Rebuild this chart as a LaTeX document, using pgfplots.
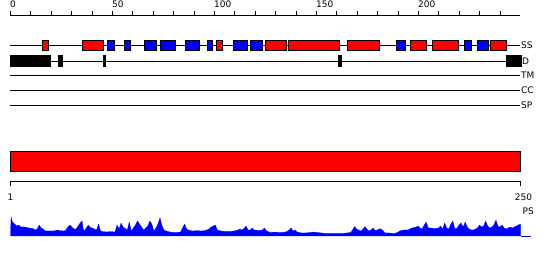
\documentclass[border=0pt]{standalone}
\usepackage{fontspec}
\setmainfont{DejaVu Sans}
\usepackage{pgfplots}
\pgfplotsset{compat=1.18}
\definecolor{ssred}{RGB}{255,0,0}
\definecolor{ssblue}{RGB}{0,0,255}
\begin{document}
\begin{tikzpicture}[font=\fontsize{9}{10}\selectfont]
\useasboundingbox (0pt,0pt) rectangle (550pt,260pt);
% top ruler
\begin{axis}[at={(10.5pt,245pt)}, anchor=south west, scale only axis,
  width=510pt, height=10pt, xmin=0, xmax=250, ymin=0, ymax=1,
  axis x line*=bottom, axis y line=none,
  xtick={0,50,100,150,200}, xticklabels={0,50,100,150,200},
  minor xtick={10,20,30,40,60,70,80,90,110,120,130,140,160,170,180,190,210,220,230,240},
  xtick align=inside, major tick length=4.3pt, minor tick length=4.3pt,
  every tick/.style={black, line width=0.8pt},
  axis line style={line width=0.8pt},
  xticklabel style={anchor=south west, inner sep=0pt, xshift=-0.5pt, yshift=7.5pt, font=\fontsize{9}{10}\selectfont},
  /pgf/number format/assume math mode=true]
\end{axis}
% tracks
\begin{axis}[at={(10.5pt,145pt)}, anchor=south west, scale only axis,
  width=510pt, height=105pt, xmin=0, xmax=250, ymin=-115, ymax=-10,
  axis lines=none, clip=false]
\addplot[black, line width=0.8pt] coordinates {(0,-45) (250,-45)};
\addplot[black, line width=0.8pt] coordinates {(0,-61) (250,-61)};
\addplot[black, line width=0.8pt] coordinates {(0,-75) (250,-75)};
\addplot[black, line width=0.8pt] coordinates {(0,-90) (250,-90)};
\addplot[black, line width=0.8pt] coordinates {(0,-105) (250,-105)};
% SS helices (red)
\addplot[fill=ssred, draw=black, line width=0.6pt] coordinates {(15.5,-40) (18.5,-40) (18.5,-50.5) (15.5,-50.5)} -- cycle;
\addplot[fill=ssred, draw=black, line width=0.6pt] coordinates {(35,-40) (45.5,-40) (45.5,-50.5) (35,-50.5)} -- cycle;
\addplot[fill=ssred, draw=black, line width=0.6pt] coordinates {(101,-40) (104,-40) (104,-50.5) (101,-50.5)} -- cycle;
\addplot[fill=ssred, draw=black, line width=0.6pt] coordinates {(125,-40) (135,-40) (135,-50.5) (125,-50.5)} -- cycle;
\addplot[fill=ssred, draw=black, line width=0.6pt] coordinates {(136,-40) (161,-40) (161,-50.5) (136,-50.5)} -- cycle;
\addplot[fill=ssred, draw=black, line width=0.6pt] coordinates {(165,-40) (181,-40) (181,-50.5) (165,-50.5)} -- cycle;
\addplot[fill=ssred, draw=black, line width=0.6pt] coordinates {(196,-40) (204,-40) (204,-50.5) (196,-50.5)} -- cycle;
\addplot[fill=ssred, draw=black, line width=0.6pt] coordinates {(207,-40) (219.5,-40) (219.5,-50.5) (207,-50.5)} -- cycle;
\addplot[fill=ssred, draw=black, line width=0.6pt] coordinates {(235,-40) (243,-40) (243,-50.5) (235,-50.5)} -- cycle;
% SS strands (blue)
\addplot[fill=ssblue, draw=black, line width=0.6pt] coordinates {(47.5,-40) (51,-40) (51,-50.5) (47.5,-50.5)} -- cycle;
\addplot[fill=ssblue, draw=black, line width=0.6pt] coordinates {(56,-40) (58.5,-40) (58.5,-50.5) (56,-50.5)} -- cycle;
\addplot[fill=ssblue, draw=black, line width=0.6pt] coordinates {(65.5,-40) (71.5,-40) (71.5,-50.5) (65.5,-50.5)} -- cycle;
\addplot[fill=ssblue, draw=black, line width=0.6pt] coordinates {(73.5,-40) (81,-40) (81,-50.5) (73.5,-50.5)} -- cycle;
\addplot[fill=ssblue, draw=black, line width=0.6pt] coordinates {(85.5,-40) (92.5,-40) (92.5,-50.5) (85.5,-50.5)} -- cycle;
\addplot[fill=ssblue, draw=black, line width=0.6pt] coordinates {(96.5,-40) (99,-40) (99,-50.5) (96.5,-50.5)} -- cycle;
\addplot[fill=ssblue, draw=black, line width=0.6pt] coordinates {(109,-40) (116,-40) (116,-50.5) (109,-50.5)} -- cycle;
\addplot[fill=ssblue, draw=black, line width=0.6pt] coordinates {(117.5,-40) (123.5,-40) (123.5,-50.5) (117.5,-50.5)} -- cycle;
\addplot[fill=ssblue, draw=black, line width=0.6pt] coordinates {(189,-40) (193.5,-40) (193.5,-50.5) (189,-50.5)} -- cycle;
\addplot[fill=ssblue, draw=black, line width=0.6pt] coordinates {(222.5,-40) (226,-40) (226,-50.5) (222.5,-50.5)} -- cycle;
\addplot[fill=ssblue, draw=black, line width=0.6pt] coordinates {(229,-40) (234,-40) (234,-50.5) (229,-50.5)} -- cycle;
% disorder (black)
\addplot[fill=black, draw=black, line width=0.4pt] coordinates {(0,-55.5) (19.6,-55.5) (19.6,-66) (0,-66)} -- cycle;
\addplot[fill=black, draw=black, line width=0.4pt] coordinates {(23.2,-55.5) (25.2,-55.5) (25.2,-66) (23.2,-66)} -- cycle;
\addplot[fill=black, draw=black, line width=0.4pt] coordinates {(45.5,-55.5) (46.6,-55.5) (46.6,-66) (45.5,-66)} -- cycle;
\addplot[fill=black, draw=black, line width=0.4pt] coordinates {(160.8,-55.5) (161.9,-55.5) (161.9,-66) (160.8,-66)} -- cycle;
\addplot[fill=black, draw=black, line width=0.4pt] coordinates {(242.8,-55.5) (250.4,-55.5) (250.4,-66) (242.8,-66)} -- cycle;
\node[anchor=west, inner sep=0.5pt] at (axis cs:250,-45) {SS};
\node[anchor=west, inner sep=0.5pt] at (axis cs:250.4,-61) {D};
\node[anchor=west, inner sep=0.5pt] at (axis cs:250,-75) {TM};
\node[anchor=west, inner sep=0.5pt] at (axis cs:250,-90) {CC};
\node[anchor=west, inner sep=0.5pt] at (axis cs:250,-105) {SP};
\end{axis}
% domain bar and bottom ruler
\begin{axis}[at={(10.5pt,15pt)}, anchor=south west, scale only axis,
  width=510pt, height=105pt, xmin=1, xmax=250, ymin=-245, ymax=-140,
  axis lines=none, clip=false]
\addplot[fill=ssred, draw=black, line width=0.8pt] coordinates {(1,-151) (250,-151) (250,-171) (1,-171)} -- cycle;
\addplot[black, line width=0.8pt] coordinates {(1,-186) (1,-181) (250,-181) (250,-186)};
\node at (axis cs:1,-197) {1};
\node[xshift=3pt] at (axis cs:250,-197) {250};
\node[anchor=west, inner sep=0pt, xshift=2pt] at (axis cs:250,-211) {PS};
\end{axis}
% PS profile
\begin{axis}[at={(10.5pt,24pt)}, anchor=south west, scale only axis,
  width=510pt, height=20pt, xmin=1, xmax=250, ymin=0, ymax=20,
  axis lines=none, clip=false]
\addplot[fill=ssblue, draw=ssblue, line width=0.2pt] coordinates {
(1,3) (1.3,19) (2,14) (3,12) (4,10) (5,11) (6,9) (8,9) (10,8) (12,7.5) (13,6) (14,7) (15,11) (16,8) (17,7) (18,5) (20,5) (22,5) (24,6) (25,5.5) (27,5) (28,6) (29,9) (30,11) (31,9) (32,7) (33,7) (34,10) (35,13) (36,15) (36.5,7) (37,5) (38,8) (39,11) (40,8.5) (41,8) (42,7) (43,6) (44,12) (45,5) (46,4.5) (48,4) (50,4.5) (52,4) (53,11) (54,7) (55,13) (56,9) (58,6) (59,14) (60,5) (61,8) (62,11) (63,15) (64,12) (65,9) (66,6) (67,8) (68,10) (69,15) (70,12) (71,5) (72,8) (73,12) (74,18) (75,10) (76,6) (77,5) (78,4.5) (80,3.5) (82,3.5) (84,4) (85,8) (86,12) (87,7) (88,6) (90,5) (92,5.5) (94,5) (96,5.5) (98,7) (99,9) (100,10) (101,11) (102,6) (104,5) (106,4.5) (108,4.5) (110,5) (112,6) (113,7) (114,6) (115,7.5) (116,10) (117,6) (118,6) (119,8) (120,6) (122,5.5) (124,6) (125,8) (126,5) (128,3.5) (130,4) (132,3.5) (134,3.5) (136,4.5) (137,6) (138,8) (139,5) (140,6) (141,4) (143,3) (145,3) (147,3.5) (149,4) (151,3.5) (153,3) (155,2.5) (157,2.5) (159,2.5) (161,2.5) (163,2.5) (165,3) (167,3.5) (168,6) (169,9.5) (170,7) (171,6) (172,5) (173,6.5) (174,9.5) (175,7) (176,5) (177,6) (178,8) (179,5.5) (180,6) (181,7) (182,7) (183,5) (184,3) (186,3) (188,2.5) (190,3.5) (191,5) (193,6) (195,6) (196,7) (197,8) (198,8.5) (199,9) (200,10) (201,8) (202,7) (203,11) (204,14) (205,8) (206,8) (208,7.5) (210,8) (211,10) (212,7) (213,13) (214,8) (215,7) (216,12) (217,15) (218,7) (219,8) (220,11) (221,13) (222,9) (223,14) (224,9) (225,7) (226,6) (227,6) (228,7) (229,8) (230,11) (231,9) (232,10) (233,15) (234,10) (235,8) (236,9) (237,11) (238,16) (239,10) (240,9) (241,11) (242,8) (243,7) (244,8) (245,9) (246,8) (247,9) (248,10) (249,11) (250,12)
} \closedcycle;
\addplot[ssblue, line width=0.8pt] coordinates {(250,0) (255,0)};
\end{axis}
\end{tikzpicture}
\end{document}
